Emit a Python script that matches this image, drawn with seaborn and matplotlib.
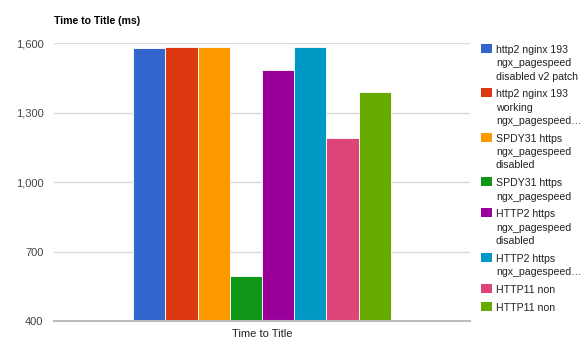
import pandas as pd
import matplotlib.pyplot as plt
import seaborn as sns
from matplotlib.patches import Rectangle

sns.set_style("white")
plt.rcParams['font.family'] = ['Liberation Sans', 'DejaVu Sans']

# data
category = ["Time to Title"]
series = [
    "http2 nginx 193\nngx_pagespeed\ndisabled v2 patch",
    "http2 nginx 193\nworking\nngx_pagespeed…",
    "SPDY31 https\nngx_pagespeed\ndisabled",
    "SPDY31 https\nngx_pagespeed",
    "HTTP2 https\nngx_pagespeed\ndisabled",
    "HTTP2 https\nngx_pagespeed…",
    "HTTP11 non",
    "HTTP11 non",
]
values = [1581, 1584, 1584, 594, 1485, 1584, 1189, 1390]
colors = ["#3366cc", "#dc3912", "#ff9900", "#109618",
          "#990099", "#0099c6", "#dd4477", "#66aa00"]
yticks = [400, 700, 1000, 1300, 1600]

# duplicate labels (HTTP11 non twice) -> use an index as hue
df = pd.DataFrame({
    "metric": category * len(values),
    "series": [str(i) for i in range(len(values))],
    "value": values,
})

W, H = 584, 351
fig = plt.figure(figsize=(W / 100, H / 100), dpi=100)
ax = fig.add_axes([54 / W, 1 - 321 / H, 416 / W, (321 - 43.3) / H])

sns.barplot(data=df, x="metric", y="value", hue="series",
            hue_order=list(df["series"]), palette=colors,
            width=0.62, dodge=True, legend=False, ax=ax,
            edgecolor="white", linewidth=0.6, saturation=1)

ax.set_xlim(-0.5, 0.5)
ax.set_ylim(400, 1600)
ax.set_yticks(yticks)
ax.set_yticklabels([f"{v:,}" for v in yticks])
ax.yaxis.grid(True, color="#d9d9d9", linewidth=1)
ax.set_axisbelow(True)
for s in ["top", "right", "left"]:
    ax.spines[s].set_visible(False)
ax.spines["bottom"].set_color("#bbbbbb")
ax.spines["bottom"].set_linewidth(1.5)
ax.spines["bottom"].set_zorder(5)
ax.tick_params(axis="y", length=0, pad=7.5, labelsize=8, labelcolor="#444444")
ax.tick_params(axis="x", length=0, pad=6, labelsize=8, labelcolor="#222222")
ax.set_xlabel("")
ax.set_ylabel("")

fig.text(54 / W, 1 - 21 / H, "Time to Title (ms)", fontsize=7.6,
         fontweight="bold", va="center", ha="left", color="#000000")

# legend drawn by hand so the swatch sits on the first line
top = 44.0
line_h = 13.3
for lab, col in zip(series, colors):
    fig.patches.append(Rectangle((481 / W, 1 - (top + 9) / H), 11 / W, 9 / H,
                                 transform=fig.transFigure, facecolor=col,
                                 edgecolor="none"))
    for j, line in enumerate(lab.split("\n")):
        fig.text(496 / W, 1 - (top + 9 + j * line_h) / H, line,
                 fontsize=7.6, color="#222222", va="baseline", ha="left")
    top += len(lab.split("\n")) * line_h + 4.5

plt.savefig("out.png", dpi=100)
